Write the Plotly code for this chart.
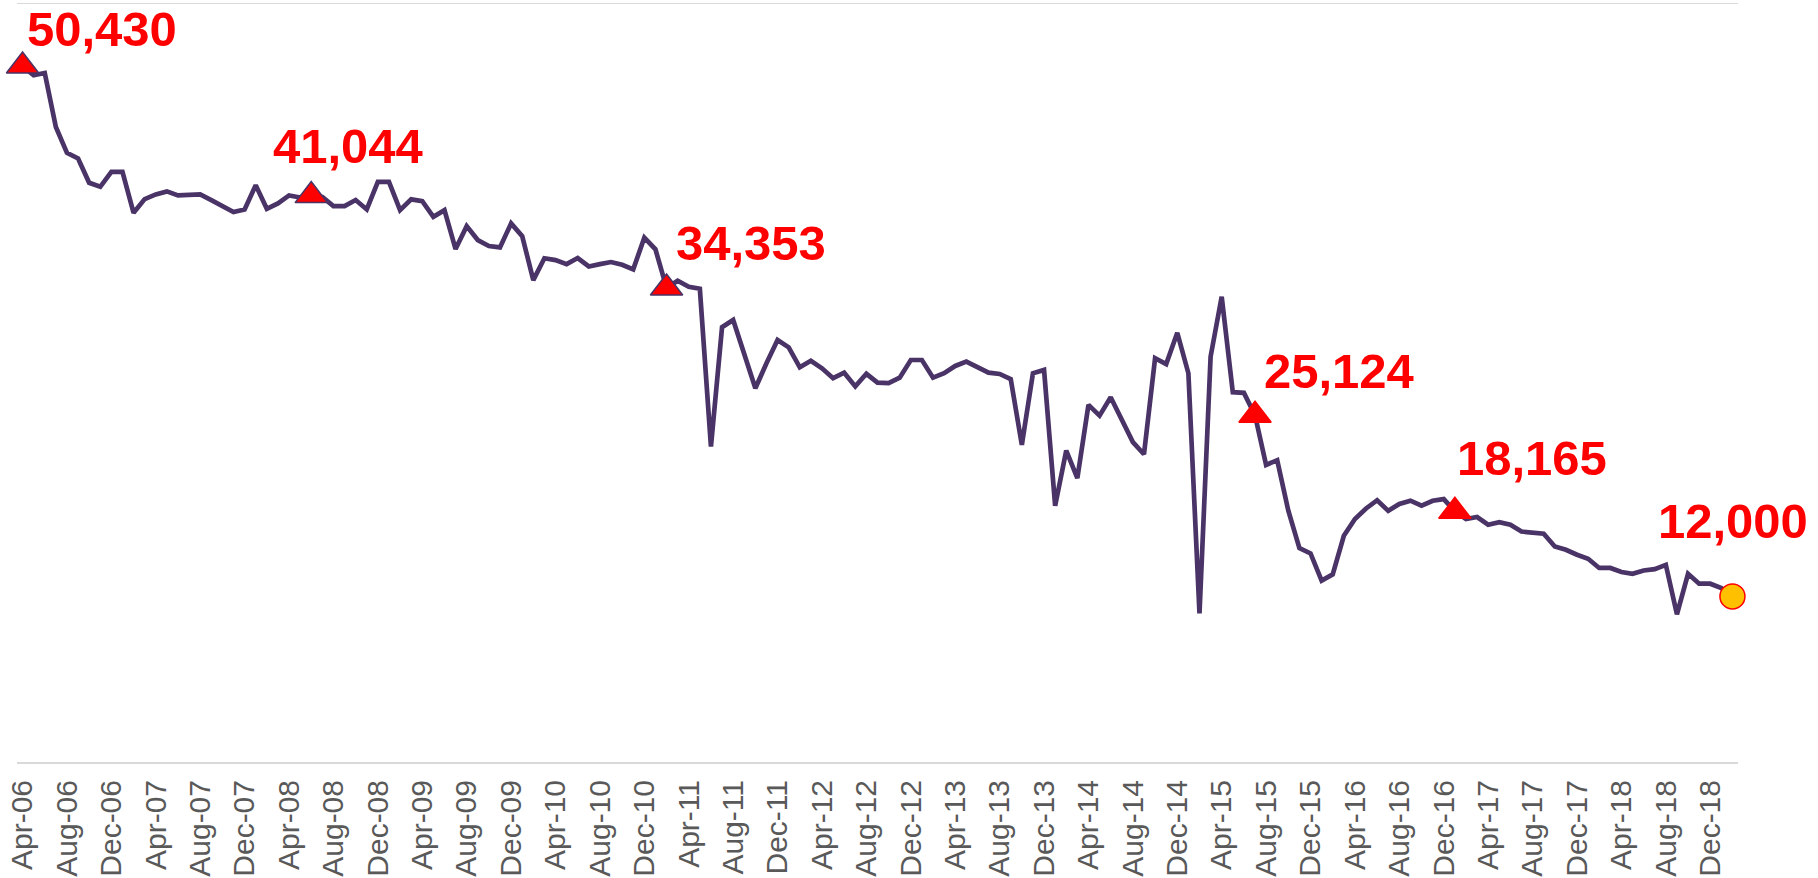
import pandas as pd
import plotly.graph_objects as go

# ---- data ----
start_month = "2006-04-01"
values = [
    50430, 49760, 49930, 46020, 44140, 43730, 41970, 41680, 42760, 42760,
    39800, 40790, 41130, 41350, 41060, 41060, 41130, 40720, 40300, 39850,
    40040, 41800, 40090, 40480, 41060, 40910, 41044, 40950, 40280, 40280,
    40720, 40040, 42040, 42040, 39990, 40770, 40640, 39510, 39990, 37170,
    38830, 37820, 37390, 37290, 39030, 38110, 34920, 36500, 36370, 36080,
    36520, 35910, 36080, 36230, 36030, 35700, 37990, 37150, 34353, 34870,
    34440, 34290, 22860, 31510, 32030, 29520, 27080, 28890, 30580, 30050,
    28600, 29080, 28530, 27810, 28210, 27220, 28130, 27490, 27450, 27850,
    29130, 29130, 27850, 28170, 28700, 29010, 28580, 28210, 28120, 27740,
    22980, 28170, 28410, 18560, 22570, 20570, 25880, 25100, 26430, 24880,
    23180, 22300, 29260, 28830, 31100, 28170, 10770, 29370, 33720, 26800,
    26750, 25124, 21530, 21870, 18210, 15500, 15110, 13150, 13600, 16390,
    17610, 18370, 18970, 18200, 18700, 18940, 18570, 18930, 19050, 18165,
    17600, 17750, 17190, 17380, 17190, 16700, 16630, 16540, 15620, 15380,
    15020, 14730, 14060, 14060, 13770, 13640, 13880, 13980, 14290, 10700,
    13640, 12920, 12920, 12600, 12000,
]
months = [d.strftime("%b-%y") for d in pd.date_range(start_month, periods=len(values), freq="MS")]

tick_labels = [
    "Apr-06", "Aug-06", "Dec-06", "Apr-07", "Aug-07", "Dec-07", "Apr-08", "Aug-08",
    "Dec-08", "Apr-09", "Aug-09", "Dec-09", "Apr-10", "Aug-10", "Dec-10", "Apr-11",
    "Aug-11", "Dec-11", "Apr-12", "Aug-12", "Dec-12", "Apr-13", "Aug-13", "Dec-13",
    "Apr-14", "Aug-14", "Dec-14", "Apr-15", "Aug-15", "Dec-15", "Apr-16", "Aug-16",
    "Dec-16", "Apr-17", "Aug-17", "Dec-17", "Apr-18", "Aug-18", "Dec-18",
]

highlight_months = ["Apr-06", "Jun-08", "Feb-11", "Jul-15", "Jan-17"]
highlight_values = [50430, 41044, 34353, 25124, 18165]
last_month = "Feb-19"
last_value = 12000

# ---- styling ----
LINE = "#4A3366"
RED = "#FF0000"
GRID = "#D9D9D9"
FONT = "Liberation Sans, Arial, sans-serif"
border_colors = [LINE, LINE, LINE, RED, RED]
label_shifts = [(79, 37), (37, 50), (84, 45), (84, 44), (77, 53)]
last_shift = (1, 75)

fig = go.Figure()
fig.add_trace(go.Scatter(
    x=months, y=values, mode="lines",
    line=dict(color=LINE, width=4.7),
    hoverinfo="x+y", showlegend=False,
))
fig.add_trace(go.Scatter(
    x=highlight_months, y=highlight_values, mode="markers",
    marker=dict(symbol="triangle-up", size=28, color=RED,
                line=dict(color=border_colors, width=1.5)),
    showlegend=False, cliponaxis=False,
))
fig.add_trace(go.Scatter(
    x=[last_month], y=[last_value], mode="markers",
    marker=dict(symbol="circle", size=25, color="#FFC000",
                line=dict(color=RED, width=1.5)),
    showlegend=False, cliponaxis=False,
))

for m, v, (dx, dy) in zip(highlight_months + [last_month],
                          highlight_values + [last_value],
                          label_shifts + [last_shift]):
    fig.add_annotation(
        x=m, y=v, text=f"{v:,}", showarrow=False,
        xanchor="center", yanchor="middle", xshift=dx, yshift=dy,
        font=dict(family=FONT, size=49, color=RED, weight="bold"),
    )

# top border line of the plot area
fig.add_shape(type="line", xref="paper", yref="y", x0=0, x1=1, y0=55000, y1=55000,
              line=dict(color=GRID, width=2), layer="below")

fig.update_layout(
    width=1818, height=878,
    margin=dict(l=17, r=80, t=3, b=116),
    paper_bgcolor="white", plot_bgcolor="white",
    font=dict(family=FONT),
    xaxis=dict(
        type="category", categoryorder="array", categoryarray=months,
        range=[-0.5, len(values) - 0.5], automargin=False,
        tickmode="array", tickvals=tick_labels, ticktext=tick_labels,
        tickangle=-90, tickfont=dict(size=30, color="#595959", family=FONT),
        ticklabelstandoff=4,
        showline=True, linecolor=GRID, linewidth=2,
        showgrid=False, ticks="", zeroline=False,
    ),
    yaxis=dict(
        range=[0, 55000], showticklabels=False, showgrid=False, automargin=False,
        zeroline=False, showline=False, ticks="",
    ),
)

fig.write_html("out.html", config={"displayModeBar": False},
               post_script="document.body.style.margin='0';")
